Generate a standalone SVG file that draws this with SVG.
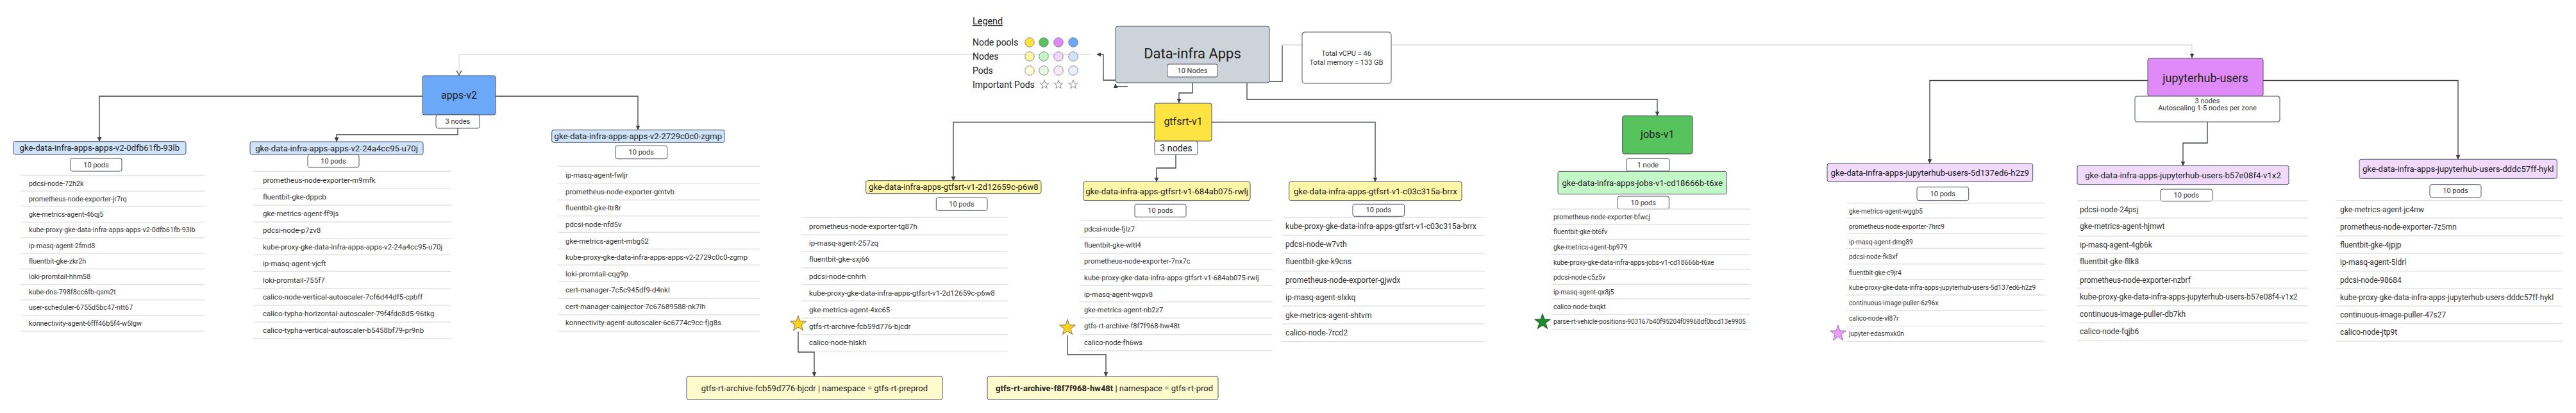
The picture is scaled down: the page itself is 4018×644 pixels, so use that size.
<svg xmlns="http://www.w3.org/2000/svg" width="4018" height="644" viewBox="0 0 4018 644">
<defs>
<marker id="ah" viewBox="0 0 10 10" refX="9" refY="5" markerWidth="7" markerHeight="7" markerUnits="userSpaceOnUse" orient="auto"><path d="M0,0L10,5L0,10z" fill="#3a414a"/></marker>
<polygon id="star" points="0,-13 3.06,-4.21 12.36,-4.02 4.95,1.61 7.64,10.52 0,5.2 -7.64,10.52 -4.95,1.61 -12.36,-4.02 -3.06,-4.21"/>
</defs>
<style>
text{font-family:Roboto,"Liberation Sans",sans-serif;fill:#222;}
.c{stroke:#3a414a;stroke-width:1.3;fill:none;}
.cl{stroke:#dcdcdc;stroke-width:1.3;fill:none;}
.pool{stroke:#4a5260;stroke-width:1;}
.node{stroke:#4a5260;stroke-width:1;}
.cnt{fill:#fff;stroke:#4a5260;stroke-width:1;}
.sep{stroke:#e4e4e4;stroke-width:1.5;fill:none;}
.mid{text-anchor:middle;dominant-baseline:central;}
.pod{dominant-baseline:central;fill:#333;}
.lbl{font-size:13.2px;}
.np{font-size:11px;fill:#333;}
.y1{fill:#ffe342}.y2{fill:#fff7a6}.y3{fill:#fffcd6}
.g1{fill:#56c35d}.g2{fill:#c3f7c8}.g3{fill:#e3f9e5}
.p1{fill:#e08af8}.p2{fill:#f1d9fc}.p3{fill:#f7ebfd}
.b1{fill:#6ca8f8}.b2{fill:#cfe3fb}.b3{fill:#e8f1fd}
</style>
<rect width="4018" height="644" fill="#fff"/>

<g id="connectors">
<path class="cl" d="M1702,85 H716 V116"/>
<path class="c" d="M712,110 L716,117 L720,110" fill="#3a414a"/>
<path class="c" d="M1740,125 H1721 V85 H1711" marker-end="url(#ah)"/>
<path class="c" d="M1759,135 H1740 V131" marker-end="url(#ah)"/>
<path class="c" d="M1980,127 H2000 V71"/>
<path class="cl" d="M2000,70 H3419 V84"/>
<path class="c" d="M3419,83 V90" marker-end="url(#ah)"/>
<path class="c" d="M1860,129 V145 H1839 V160" marker-end="url(#ah)"/>
<path class="c" d="M1945,129 V155 H2585 V180" marker-end="url(#ah)"/>
<path class="c" d="M659,150 H155 V220" marker-end="url(#ah)"/>
<path class="c" d="M773,150 H995 V202" marker-end="url(#ah)"/>
<path class="c" d="M714,200 V210 H525 V220.5" marker-end="url(#ah)"/>
<path class="c" d="M1801,190.5 H1487 V281.5" marker-end="url(#ah)"/>
<path class="c" d="M1890,190.5 H2145 V283" marker-end="url(#ah)"/>
<path class="c" d="M1834,241 V262 H1804 V283" marker-end="url(#ah)"/>
<path class="c" d="M1245,517 V549 H1270 V586.5" marker-end="url(#ah)"/>
<path class="c" d="M1665,523 V553 H1725 V586.5" marker-end="url(#ah)"/>
<path class="c" d="M3350,125.5 H3010 V254.5" marker-end="url(#ah)"/>
<path class="c" d="M3530,125.5 H3834 V248" marker-end="url(#ah)"/>
<path class="c" d="M3443,190 V223 H3405 V258" marker-end="url(#ah)"/>
</g>

<g id="legend">
<text x="1517" y="38" font-size="14.4" text-decoration="underline">Legend</text>
<text x="1517" y="71" font-size="14">Node pools</text>
<text x="1517" y="93" font-size="14">Nodes</text>
<text x="1517" y="115" font-size="14">Pods</text>
<text x="1517" y="137" font-size="14">Important Pods</text>
<g stroke="#777" stroke-width="0.8">
<circle cx="1606" cy="66" r="7.3" class="y1"/><circle cx="1628" cy="66" r="7.3" class="g1"/><circle cx="1651" cy="66" r="7.3" class="p1"/><circle cx="1674" cy="66" r="7.3" class="b1"/>
<circle cx="1606" cy="88" r="7.3" class="y2"/><circle cx="1628" cy="88" r="7.3" class="g2"/><circle cx="1651" cy="88" r="7.3" class="p2"/><circle cx="1674" cy="88" r="7.3" class="b2"/>
<circle cx="1606" cy="110" r="7.3" class="y3"/><circle cx="1628" cy="110" r="7.3" class="g3"/><circle cx="1651" cy="110" r="7.3" class="p3"/><circle cx="1674" cy="110" r="7.3" class="b3"/>
</g>
<g fill="#fff" stroke="#888" stroke-width="1.8">
<use href="#star" transform="translate(1629,132) scale(0.55)"/>
<use href="#star" transform="translate(1651,132) scale(0.55)"/>
<use href="#star" transform="translate(1674,132) scale(0.55)"/>
</g>
</g>

<g id="title">
<rect x="1740" y="41" width="240" height="88" rx="4" fill="#cdd3db" stroke="#4a5260"/>
<text x="1860" y="83" class="mid" font-size="22" fill="#333">Data-infra Apps</text>
<rect x="1820.5" y="100" width="79" height="20" rx="3" class="cnt"/>
<text x="1860" y="110.5" class="mid np">10 Nodes</text>
</g>

<g id="totals">
<rect x="2031" y="50" width="139" height="80" rx="4" fill="#fff" stroke="#4a5260"/>
<text x="2100" y="83" class="mid np">Total vCPU = 46</text>
<text x="2100" y="97" class="mid np">Total memory = 133 GB</text>
</g>

<g id="pool-apps-v2">
<rect x="659" y="118" width="114" height="61" rx="3" class="pool b1"/>
<text x="716" y="148.5" class="mid" font-size="16" fill="#333">apps-v2</text>
<rect x="680" y="179" width="68" height="21" rx="3" class="cnt"/>
<text x="714" y="189.5" class="mid np">3 nodes</text>
</g>

<g id="node-apps-v2-0dfb61fb-93lb">
<rect x="20.7" y="220.7" width="269.3" height="20" rx="3" class="node b2"/>
<text x="155.3" y="230.7" class="mid lbl">gke-data-infra-apps-apps-v2-0dfb61fb-93lb</text>
<rect x="110" y="247" width="80" height="20" rx="3" class="cnt"/>
<text x="150" y="257" class="mid np" font-size="10.8">10 pods</text>
<path class="sep" d="M32,273.5H320M32,298H320M32,322.3H320M32,346.6H320M32,370.8H320M32,395H320M32,419.3H320M32,443.5H320M32,467.8H320M32,492H320M32,516.3H320"/>
<g font-size="10.8">
<text x="45" y="286" class="pod">pdcsi-node-72h2k</text>
<text x="45" y="310.2" class="pod">prometheus-node-exporter-jr7rq</text>
<text x="45" y="334.4" class="pod">gke-metrics-agent-46qj5</text>
<text x="45" y="358.7" class="pod">kube-proxy-gke-data-infra-apps-apps-v2-0dfb61fb-93lb</text>
<text x="45" y="383" class="pod">ip-masq-agent-2fmd8</text>
<text x="45" y="407.2" class="pod">fluentbit-gke-zkr2h</text>
<text x="45" y="431.4" class="pod">loki-promtail-hhm58</text>
<text x="45" y="455.6" class="pod">kube-dns-798f8cc6fb-qsm2t</text>
<text x="45" y="479.8" class="pod">user-scheduler-6755d5bc47-ntt67</text>
<text x="45" y="504.2" class="pod">konnectivity-agent-6fff46b5f4-w5lgw</text>
</g>
</g>

<g id="node-apps-v2-24a4cc95-u70j">
<rect x="390" y="221" width="270" height="20" rx="3" class="node b2"/>
<text x="525" y="231" class="mid lbl">gke-data-infra-apps-apps-v2-24a4cc95-u70j</text>
<rect x="480" y="241" width="80" height="20" rx="3" class="cnt"/>
<text x="520" y="251" class="mid np" font-size="10.8">10 pods</text>
<path class="sep" d="M395,267.3H704M395,294.3H704M395,320H704M395,346H704M395,371.7H704M395,397.3H704M395,423.3H704M395,450H704M395,476H704M395,502.3H704M395,528H704"/>
<g font-size="11.5">
<text x="410" y="280.7" class="pod">prometheus-node-exporter-m9mfk</text>
<text x="410" y="306.7" class="pod">fluentbit-gke-dppcb</text>
<text x="410" y="332.7" class="pod">gke-metrics-agent-ff9js</text>
<text x="410" y="359.3" class="pod">pdcsi-node-p7zv8</text>
<text x="410" y="385.3" class="pod">kube-proxy-gke-data-infra-apps-apps-v2-24a4cc95-u70j</text>
<text x="410" y="411" class="pod">ip-masq-agent-vjcft</text>
<text x="410" y="437" class="pod">loki-promtail-755f7</text>
<text x="410" y="462.7" class="pod">calico-node-vertical-autoscaler-7cf6d44df5-cpbff</text>
<text x="410" y="488.7" class="pod">calico-typha-horizontal-autoscaler-79f4fdc8d5-96tkg</text>
<text x="410" y="514.7" class="pod">calico-typha-vertical-autoscaler-b5458bf79-pr9nb</text>
</g>
</g>

<g id="node-apps-v2-2729c0c0-zgmp">
<rect x="860.7" y="202.7" width="269.3" height="19.6" rx="3" class="node b2"/>
<text x="995.3" y="212.5" class="mid lbl">gke-data-infra-apps-apps-v2-2729c0c0-zgmp</text>
<rect x="960" y="227.3" width="80.7" height="20.4" rx="3" class="cnt"/>
<text x="1000.3" y="237.5" class="mid np" font-size="10.8">10 pods</text>
<path class="sep" d="M870,259.3H1185M870,285.7H1185M870,311.7H1185M870,336.7H1185M870,362.3H1185M870,388.3H1185M870,413.3H1185M870,439.3H1185M870,465H1185M870,490.7H1185M870,516.3H1185"/>
<g font-size="11.4">
<text x="882" y="273.3" class="pod">ip-masq-agent-fwljr</text>
<text x="882" y="299" class="pod">prometheus-node-exporter-gmtvb</text>
<text x="882" y="324.3" class="pod">fluentbit-gke-ltr8r</text>
<text x="882" y="350.3" class="pod">pdcsi-node-nfd5v</text>
<text x="882" y="375.7" class="pod">gke-metrics-agent-mbg52</text>
<text x="882" y="401" class="pod">kube-proxy-gke-data-infra-apps-apps-v2-2729c0c0-zgmp</text>
<text x="882" y="426.7" class="pod">loki-promtail-cqg9p</text>
<text x="882" y="452.3" class="pod">cert-manager-7c5c945df9-d4nkl</text>
<text x="882" y="477.7" class="pod">cert-manager-cainjector-7c67689588-nk7lh</text>
<text x="882" y="503.4" class="pod">konnectivity-agent-autoscaler-6c6774c9cc-fjg8s</text>
</g>
</g>

<g id="pool-gtfsrt-v1">
<rect x="1801" y="161" width="89" height="59" rx="3" class="pool y1"/>
<text x="1845.5" y="189" class="mid" font-size="16" fill="#333">gtfsrt-v1</text>
<rect x="1801" y="220" width="67" height="21" rx="3" class="cnt"/>
<text x="1834.5" y="230.5" class="mid" font-size="14.2" fill="#333">3 nodes</text>
</g>

<g id="node-gtfsrt-v1-2d12659c-p6w8">
<rect x="1350.7" y="281.7" width="273.3" height="20" rx="3" class="node y2"/>
<text x="1487.3" y="291.7" class="mid lbl">gke-data-infra-apps-gtfsrt-v1-2d12659c-p6w8</text>
<rect x="1460.3" y="308.3" width="79.7" height="20" rx="3" class="cnt"/>
<text x="1500" y="318.3" class="mid np" font-size="10.8">10 pods</text>
<path class="sep" d="M1250,339.3H1572M1250,366.3H1572M1250,392.3H1572M1250,417.7H1572M1250,443.7H1572M1250,469.3H1572M1250,495.7H1572M1250,521.7H1572M1250,547.5H1572"/>
<g font-size="11.5">
<text x="1262" y="352.7" class="pod">prometheus-node-exporter-tg87h</text>
<text x="1262" y="378.7" class="pod">ip-masq-agent-257zq</text>
<text x="1262" y="404.3" class="pod">fluentbit-gke-sxj66</text>
<text x="1262" y="431" class="pod">pdcsi-node-cnhrh</text>
<text x="1262" y="457" class="pod">kube-proxy-gke-data-infra-apps-gtfsrt-v1-2d12659c-p6w8</text>
<text x="1262" y="482.7" class="pod">gke-metrics-agent-4xc65</text>
<text x="1262" y="508.7" class="pod">gtfs-rt-archive-fcb59d776-bjcdr</text>
<text x="1262" y="534.3" class="pod">calico-node-hlskh</text>
</g>
<use href="#star" x="1245" y="505" fill="#ffd21f" stroke="#5a5a3a" stroke-width="0.8"/>
</g>

<g id="node-gtfsrt-v1-684ab075-rwlj">
<rect x="1690" y="283.3" width="260" height="29.4" rx="3" class="node y2"/>
<text x="1820" y="298" class="mid lbl">gke-data-infra-apps-gtfsrt-v1-684ab075-rwlj</text>
<rect x="1770" y="318.3" width="80" height="20" rx="3" class="cnt"/>
<text x="1810" y="328.3" class="mid np" font-size="10.8">10 pods</text>
<path class="sep" d="M1684,344H1985M1684,370H1985M1684,395H1985M1684,420H1985M1684,445H1985M1684,470.7H1985M1684,495.7H1985M1684,521.7H1985M1684,546.7H1985"/>
<g font-size="11.2">
<text x="1691" y="357.3" class="pod">pdcsi-node-fjlz7</text>
<text x="1691" y="382.3" class="pod">fluentbit-gke-wltl4</text>
<text x="1691" y="407.3" class="pod">prometheus-node-exporter-7nx7c</text>
<text x="1691" y="433.3" class="pod">kube-proxy-gke-data-infra-apps-gtfsrt-v1-684ab075-rwlj</text>
<text x="1691" y="459" class="pod">ip-masq-agent-wgpv8</text>
<text x="1691" y="483.3" class="pod">gke-metrics-agent-nb2z7</text>
<text x="1691" y="508.7" class="pod">gtfs-rt-archive-f8f7f968-hw48t</text>
<text x="1691" y="534" class="pod">calico-node-fh6ws</text>
</g>
<use href="#star" x="1665" y="511" fill="#ffd21f" stroke="#5a5a3a" stroke-width="0.8"/>
</g>

<g id="node-gtfsrt-v1-c03c315a-brrx">
<rect x="2010.7" y="283.3" width="269.3" height="29.4" rx="3" class="node y2"/>
<text x="2145.3" y="298" class="mid lbl">gke-data-infra-apps-gtfsrt-v1-c03c315a-brrx</text>
<rect x="2110" y="318.3" width="80.7" height="19" rx="3" class="cnt"/>
<text x="2150.3" y="327.8" class="mid np" font-size="10.8">10 pods</text>
<path class="sep" d="M2000,339.3H2316M2000,367.3H2316M2000,395H2316M2000,422.7H2316M2000,450H2316M2000,477.3H2316M2000,505H2316M2000,532.7H2316"/>
<g font-size="12.2">
<text x="2005" y="353.3" class="pod">kube-proxy-gke-data-infra-apps-gtfsrt-v1-c03c315a-brrx</text>
<text x="2005" y="381" class="pod">pdcsi-node-w7vth</text>
<text x="2005" y="408.3" class="pod">fluentbit-gke-k9cns</text>
<text x="2005" y="436.7" class="pod">prometheus-node-exporter-gjwdx</text>
<text x="2005" y="464" class="pod">ip-masq-agent-slxkq</text>
<text x="2005" y="491.7" class="pod">gke-metrics-agent-shtvm</text>
<text x="2005" y="519.3" class="pod">calico-node-7rcd2</text>
</g>
</g>

<g id="pod-gtfs-rt-archive-preprod">
<rect x="1071" y="587" width="399" height="36" rx="3" fill="#fffbcc" stroke="#4a5260"/>
<text x="1447" y="605" text-anchor="end" dominant-baseline="central" font-size="13">gtfs-rt-archive-fcb59d776-bjcdr | namespace = gtfs-rt-preprod</text>
</g>

<g id="pod-gtfs-rt-archive-prod">
<rect x="1540" y="587" width="360" height="36" rx="3" fill="#fffbcc" stroke="#4a5260"/>
<text x="1892" y="605" text-anchor="end" dominant-baseline="central" font-size="13"><tspan font-weight="bold">gtfs-rt-archive-f8f7f968-hw48t</tspan> | namespace = gtfs-rt-prod</text>
</g>

<g id="pool-jobs-v1">
<rect x="2530.7" y="180.7" width="109.3" height="59.3" rx="3" class="pool g1"/>
<text x="2585.3" y="209" class="mid" font-size="16.4" fill="#333">jobs-v1</text>
<rect x="2536.7" y="247.3" width="67.3" height="19.4" rx="3" class="cnt"/>
<text x="2570.3" y="257" class="mid np" font-size="11.2">1 node</text>
</g>

<g id="node-jobs-v1-cd18666b-t6xe">
<rect x="2430" y="267.3" width="263.3" height="35.4" rx="3" class="node g2"/>
<text x="2561.7" y="285" class="mid lbl">gke-data-infra-apps-jobs-v1-cd18666b-t6xe</text>
<rect x="2523.3" y="306" width="80" height="20" rx="3" class="cnt"/>
<text x="2563.3" y="316" class="mid np" font-size="10.8">10 pods</text>
<path class="sep" d="M2420,326H2730M2420,350H2730M2420,373.3H2730M2420,396.7H2730M2420,420H2730M2420,443.3H2730M2420,466H2730M2420,490H2730M2420,513.5H2730"/>
<g font-size="10.4">
<text x="2423" y="338.3" class="pod">prometheus-node-exporter-bfwcj</text>
<text x="2423" y="361.7" class="pod">fluentbit-gke-bt6fv</text>
<text x="2423" y="385" class="pod">gke-metrics-agent-bp979</text>
<text x="2423" y="409" class="pod">kube-proxy-gke-data-infra-apps-jobs-v1-cd18666b-t6xe</text>
<text x="2423" y="432.3" class="pod">pdcsi-node-c5z5v</text>
<text x="2423" y="455.7" class="pod">ip-masq-agent-qx8j5</text>
<text x="2423" y="478.3" class="pod">calico-node-bxqkt</text>
<text x="2423" y="501.7" class="pod" textLength="300" lengthAdjust="spacingAndGlyphs">parse-rt-vehicle-positions-903167b40f95204f09968df0bcd13e9905</text>
</g>
<use href="#star" x="2406" y="502" fill="#1f8b2c" stroke="#0c4a14" stroke-width="0.8"/>
</g>

<g id="pool-jupyterhub-users">
<rect x="3350" y="91" width="180" height="59" rx="3" class="pool p1"/>
<text x="3440" y="121" class="mid" font-size="18" fill="#333">jupyterhub-users</text>
<rect x="3330" y="150" width="226" height="40" rx="3" class="cnt"/>
<text x="3443" y="157" class="mid np">3 nodes</text>
<text x="3443" y="168" class="mid np">Autoscaling 1-5 nodes per zone</text>
</g>

<g id="node-jupyterhub-users-5d137ed6-h2z9">
<rect x="2850" y="255" width="320.7" height="28.3" rx="3" class="node p2"/>
<text x="3010.3" y="269.2" class="mid lbl">gke-data-infra-apps-jupyterhub-users-5d137ed6-h2z9</text>
<rect x="2990" y="291.7" width="80.7" height="21" rx="3" class="cnt"/>
<text x="3030.3" y="302.2" class="mid np" font-size="10.8">10 pods</text>
<path class="sep" d="M2880,316.7H3190M2880,340H3190M2880,364H3190M2880,387.3H3190M2880,411.7H3190M2880,435.7H3190M2880,460H3190M2880,484.3H3190M2880,508.5H3190M2880,532.5H3190"/>
<g font-size="10.2">
<text x="2884" y="329.3" class="pod">gke-metrics-agent-wggb5</text>
<text x="2884" y="353.3" class="pod">prometheus-node-exporter-7hrc9</text>
<text x="2884" y="377.3" class="pod">ip-masq-agent-dmg89</text>
<text x="2884" y="400.7" class="pod">pdcsi-node-fk8xf</text>
<text x="2884" y="425" class="pod">fluentbit-gke-c9jr4</text>
<text x="2884" y="448.3" class="pod">kube-proxy-gke-data-infra-apps-jupyterhub-users-5d137ed6-h2z9</text>
<text x="2884" y="472.7" class="pod">continuous-image-puller-6z96x</text>
<text x="2884" y="496.7" class="pod">calico-node-vl87r</text>
<text x="2884" y="520.7" class="pod">jupyter-edasmxk0n</text>
</g>
<use href="#star" x="2867" y="520" fill="#e6a3f5" stroke="#8a5a9a" stroke-width="0.8"/>
</g>

<g id="node-jupyterhub-users-b57e08f4-v1x2">
<rect x="3240" y="258.3" width="330" height="29.4" rx="3" class="node p2"/>
<text x="3405" y="273" class="mid lbl">gke-data-infra-apps-jupyterhub-users-b57e08f4-v1x2</text>
<rect x="3370" y="295" width="80.7" height="19" rx="3" class="cnt"/>
<text x="3410.3" y="304.5" class="mid np" font-size="10.8">10 pods</text>
<path class="sep" d="M3240,313H3600M3240,340H3600M3240,368.3H3600M3240,395H3600M3240,421.7H3600M3240,449.3H3600M3240,476.7H3600M3240,503.5H3600M3240,530.5H3600"/>
<g font-size="12">
<text x="3244" y="326.7" class="pod">pdcsi-node-24psj</text>
<text x="3244" y="353.3" class="pod">gke-metrics-agent-hjmwt</text>
<text x="3244" y="381.7" class="pod">ip-masq-agent-4gb6k</text>
<text x="3244" y="408.3" class="pod">fluentbit-gke-fllk8</text>
<text x="3244" y="436.7" class="pod">prometheus-node-exporter-nzbrf</text>
<text x="3244" y="463.3" class="pod">kube-proxy-gke-data-infra-apps-jupyterhub-users-b57e08f4-v1x2</text>
<text x="3244" y="490" class="pod">continuous-image-puller-db7kh</text>
<text x="3244" y="517" class="pod">calico-node-fqjb6</text>
</g>
</g>

<g id="node-jupyterhub-users-dddc57ff-hykl">
<rect x="3680" y="248.3" width="308.3" height="30" rx="3" class="node p2"/>
<text x="3834.2" y="263.3" class="mid lbl">gke-data-infra-apps-jupyterhub-users-dddc57ff-hykl</text>
<rect x="3790" y="287.7" width="80" height="20" rx="3" class="cnt"/>
<text x="3830" y="297.7" class="mid np" font-size="10.8">10 pods</text>
<path class="sep" d="M3643,312.7H3997M3643,340H3997M3643,367.7H3997M3643,395H3997M3643,422.7H3997M3643,450H3997M3643,477.3H3997M3643,504.5H3997M3643,532H3997"/>
<g font-size="12">
<text x="3650" y="327.3" class="pod">gke-metrics-agent-jc4nw</text>
<text x="3650" y="354" class="pod">prometheus-node-exporter-7z5mn</text>
<text x="3650" y="381.7" class="pod">fluentbit-gke-4jpjp</text>
<text x="3650" y="409.3" class="pod">ip-masq-agent-5ldrl</text>
<text x="3650" y="436.7" class="pod">pdcsi-node-98684</text>
<text x="3650" y="464" class="pod">kube-proxy-gke-data-infra-apps-jupyterhub-users-dddc57ff-hykl</text>
<text x="3650" y="490.7" class="pod">continuous-image-puller-47s27</text>
<text x="3650" y="518" class="pod">calico-node-jtp9t</text>
</g>
</g>
</svg>
